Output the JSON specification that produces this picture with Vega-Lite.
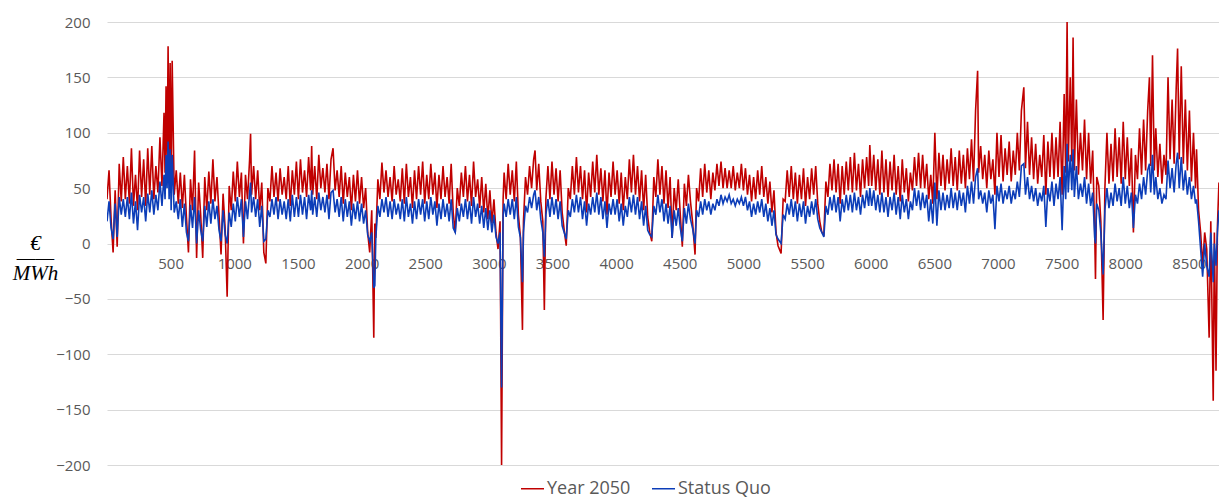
{
"$schema": "https://vega.github.io/schema/vega-lite/v6.json",
"width": 1115,
"height": 443,
"autosize": "none",
"padding": {"left": 107, "top": 22, "right": 0, "bottom": 34},
"background": "white",
"config": {"view": {"stroke": null}, "font": "Open Sans"},
"data": {"values": [
{"h":0,"r":40,"b":20},{"h":16,"r":66,"b":38},{"h":32,"r":22,"b":14},{"h":48,"r":-8,"b":4},{"h":64,"r":48,"b":36},{"h":80,"r":-3,"b":6},{"h":96,"r":72,"b":42},{"h":112,"r":38,"b":26},{"h":128,"r":78,"b":40},{"h":144,"r":40,"b":24},{"h":160,"r":70,"b":42},{"h":176,"r":36,"b":22},{"h":192,"r":86,"b":46},{"h":208,"r":34,"b":18},{"h":224,"r":62,"b":38},{"h":240,"r":30,"b":12},{"h":256,"r":84,"b":44},{"h":272,"r":42,"b":28},{"h":288,"r":76,"b":42},{"h":304,"r":34,"b":20},{"h":320,"r":86,"b":45},{"h":336,"r":44,"b":28},{"h":352,"r":88,"b":48},{"h":368,"r":40,"b":26},{"h":384,"r":70,"b":44},{"h":400,"r":46,"b":30},{"h":416,"r":96,"b":56},{"h":432,"r":52,"b":34},{"h":448,"r":118,"b":62},{"h":456,"r":64,"b":40},{"h":464,"r":142,"b":80},{"h":472,"r":72,"b":50},{"h":480,"r":178,"b":92},{"h":488,"r":66,"b":40},{"h":496,"r":163,"b":85},{"h":504,"r":50,"b":30},{"h":512,"r":165,"b":80},
{"h":528,"r":44,"b":28},{"h":544,"r":66,"b":38},{"h":560,"r":36,"b":22},{"h":576,"r":64,"b":40},{"h":592,"r":32,"b":15},{"h":608,"r":62,"b":36},{"h":624,"r":24,"b":10},{"h":640,"r":-8,"b":2},{"h":656,"r":58,"b":35},{"h":672,"r":30,"b":14},{"h":688,"r":84,"b":42},{"h":704,"r":-13,"b":0},{"h":720,"r":55,"b":30},{"h":736,"r":26,"b":12},{"h":752,"r":-13,"b":2},{"h":768,"r":60,"b":34},{"h":784,"r":30,"b":15},{"h":800,"r":65,"b":38},{"h":816,"r":36,"b":18},{"h":832,"r":76,"b":40},{"h":848,"r":38,"b":22},{"h":864,"r":60,"b":34},{"h":880,"r":26,"b":12},{"h":896,"r":-10,"b":2},{"h":912,"r":45,"b":30},{"h":928,"r":14,"b":8},{"h":944,"r":-48,"b":0},{"h":960,"r":52,"b":28},{"h":976,"r":30,"b":15},{"h":992,"r":65,"b":36},
{"h":1008,"r":38,"b":20},{"h":1024,"r":74,"b":42},{"h":1040,"r":42,"b":24},{"h":1056,"r":64,"b":40},{"h":1072,"r":0,"b":6},{"h":1088,"r":62,"b":38},{"h":1104,"r":40,"b":22},{"h":1120,"r":75,"b":45},{"h":1128,"r":99,"b":55},{"h":1136,"r":44,"b":28},{"h":1152,"r":70,"b":42},{"h":1168,"r":40,"b":24},{"h":1184,"r":66,"b":40},{"h":1200,"r":30,"b":15},{"h":1216,"r":55,"b":34},{"h":1232,"r":-8,"b":2},{"h":1248,"r":-18,"b":4},{"h":1264,"r":50,"b":30},{"h":1280,"r":38,"b":24},{"h":1296,"r":70,"b":40},{"h":1312,"r":42,"b":26},{"h":1328,"r":64,"b":42},{"h":1344,"r":38,"b":22},{"h":1360,"r":68,"b":40},{"h":1376,"r":44,"b":26},{"h":1392,"r":60,"b":38},{"h":1408,"r":40,"b":22},{"h":1424,"r":70,"b":40},{"h":1440,"r":34,"b":20},{"h":1456,"r":66,"b":44},{"h":1472,"r":44,"b":24},{"h":1488,"r":74,"b":42},
{"h":1504,"r":40,"b":24},{"h":1520,"r":76,"b":44},{"h":1536,"r":46,"b":26},{"h":1552,"r":66,"b":42},{"h":1568,"r":42,"b":22},{"h":1584,"r":78,"b":44},{"h":1600,"r":48,"b":30},{"h":1608,"r":88,"b":48},{"h":1616,"r":44,"b":26},{"h":1632,"r":70,"b":42},{"h":1648,"r":40,"b":24},{"h":1664,"r":80,"b":46},{"h":1680,"r":50,"b":30},{"h":1696,"r":68,"b":42},{"h":1712,"r":46,"b":28},{"h":1728,"r":72,"b":44},{"h":1744,"r":40,"b":22},{"h":1760,"r":76,"b":46},{"h":1776,"r":86,"b":48},{"h":1792,"r":48,"b":28},{"h":1808,"r":66,"b":40},{"h":1824,"r":42,"b":24},{"h":1840,"r":70,"b":42},{"h":1856,"r":36,"b":20},{"h":1872,"r":64,"b":40},{"h":1888,"r":42,"b":24},{"h":1904,"r":60,"b":38},{"h":1920,"r":30,"b":16},{"h":1936,"r":62,"b":36},{"h":1952,"r":38,"b":22},{"h":1968,"r":66,"b":38},{"h":1984,"r":36,"b":20},
{"h":2000,"r":60,"b":36},{"h":2016,"r":32,"b":18},{"h":2032,"r":50,"b":30},{"h":2048,"r":10,"b":8},{"h":2064,"r":-8,"b":2},{"h":2080,"r":30,"b":10},{"h":2096,"r":-85,"b":-40},{"h":2104,"r":18,"b":-38},{"h":2112,"r":5,"b":5},{"h":2128,"r":58,"b":34},{"h":2144,"r":40,"b":24},{"h":2160,"r":73,"b":40},{"h":2176,"r":46,"b":28},{"h":2192,"r":66,"b":42},{"h":2208,"r":42,"b":24},{"h":2224,"r":60,"b":38},{"h":2240,"r":38,"b":22},{"h":2256,"r":70,"b":40},{"h":2272,"r":44,"b":26},{"h":2288,"r":58,"b":36},{"h":2304,"r":38,"b":22},{"h":2320,"r":68,"b":40},{"h":2336,"r":36,"b":20},{"h":2352,"r":72,"b":42},{"h":2368,"r":42,"b":24},{"h":2384,"r":60,"b":36},{"h":2400,"r":32,"b":18},{"h":2416,"r":66,"b":38},{"h":2432,"r":40,"b":22},{"h":2448,"r":70,"b":40},{"h":2464,"r":44,"b":26},{"h":2480,"r":74,"b":40},{"h":2496,"r":36,"b":20},
{"h":2512,"r":62,"b":38},{"h":2528,"r":40,"b":22},{"h":2544,"r":72,"b":42},{"h":2560,"r":44,"b":26},{"h":2576,"r":64,"b":38},{"h":2592,"r":32,"b":16},{"h":2608,"r":62,"b":36},{"h":2624,"r":40,"b":22},{"h":2640,"r":70,"b":40},{"h":2656,"r":42,"b":24},{"h":2672,"r":60,"b":36},{"h":2688,"r":36,"b":20},{"h":2704,"r":72,"b":40},{"h":2720,"r":28,"b":14},{"h":2736,"r":10,"b":10},{"h":2752,"r":50,"b":32},{"h":2768,"r":34,"b":20},{"h":2784,"r":64,"b":36},{"h":2800,"r":42,"b":24},{"h":2816,"r":70,"b":40},{"h":2832,"r":38,"b":22},{"h":2848,"r":62,"b":38},{"h":2864,"r":34,"b":18},{"h":2880,"r":74,"b":42},{"h":2896,"r":42,"b":24},{"h":2912,"r":58,"b":36},{"h":2928,"r":32,"b":18},{"h":2944,"r":60,"b":34},{"h":2960,"r":28,"b":14},{"h":2976,"r":54,"b":32},{"h":2992,"r":22,"b":12},
{"h":3008,"r":48,"b":30},{"h":3024,"r":18,"b":10},{"h":3040,"r":40,"b":26},{"h":3056,"r":10,"b":6},{"h":3072,"r":-5,"b":0},{"h":3088,"r":20,"b":10},{"h":3100,"r":-200,"b":-130},{"h":3112,"r":40,"b":25},{"h":3120,"r":64,"b":36},{"h":3136,"r":40,"b":24},{"h":3152,"r":72,"b":40},{"h":3168,"r":44,"b":26},{"h":3184,"r":66,"b":40},{"h":3200,"r":38,"b":22},{"h":3216,"r":74,"b":42},{"h":3232,"r":26,"b":15},{"h":3248,"r":6,"b":5},{"h":3264,"r":-78,"b":-35},{"h":3272,"r":20,"b":10},{"h":3288,"r":60,"b":34},{"h":3304,"r":44,"b":28},{"h":3320,"r":70,"b":42},{"h":3336,"r":50,"b":32},{"h":3352,"r":76,"b":44},{"h":3363,"r":84,"b":48},{"h":3376,"r":48,"b":30},{"h":3392,"r":72,"b":42},{"h":3408,"r":38,"b":22},{"h":3424,"r":20,"b":10},{"h":3436,"r":-60,"b":-12},{"h":3448,"r":40,"b":26},{"h":3464,"r":70,"b":40},{"h":3480,"r":40,"b":24},{"h":3496,"r":74,"b":42},
{"h":3512,"r":44,"b":26},{"h":3528,"r":68,"b":40},{"h":3544,"r":38,"b":22},{"h":3560,"r":66,"b":38},{"h":3576,"r":28,"b":16},{"h":3592,"r":12,"b":10},{"h":3608,"r":-2,"b":4},{"h":3624,"r":50,"b":30},{"h":3640,"r":40,"b":24},{"h":3656,"r":70,"b":40},{"h":3672,"r":44,"b":28},{"h":3688,"r":78,"b":44},{"h":3704,"r":46,"b":28},{"h":3720,"r":70,"b":42},{"h":3736,"r":40,"b":22},{"h":3752,"r":66,"b":38},{"h":3768,"r":28,"b":16},{"h":3784,"r":64,"b":36},{"h":3800,"r":42,"b":26},{"h":3816,"r":74,"b":42},{"h":3832,"r":46,"b":28},{"h":3848,"r":80,"b":46},{"h":3864,"r":44,"b":26},{"h":3880,"r":68,"b":42},{"h":3896,"r":38,"b":22},{"h":3912,"r":66,"b":38},{"h":3928,"r":26,"b":14},{"h":3944,"r":64,"b":36},{"h":3960,"r":42,"b":26},{"h":3976,"r":74,"b":40},{"h":3992,"r":44,"b":26},
{"h":4008,"r":66,"b":40},{"h":4024,"r":36,"b":20},{"h":4040,"r":64,"b":36},{"h":4056,"r":30,"b":16},{"h":4072,"r":60,"b":34},{"h":4088,"r":40,"b":24},{"h":4104,"r":76,"b":42},{"h":4120,"r":46,"b":28},{"h":4136,"r":80,"b":44},{"h":4152,"r":44,"b":26},{"h":4168,"r":70,"b":42},{"h":4184,"r":38,"b":22},{"h":4200,"r":66,"b":38},{"h":4216,"r":30,"b":16},{"h":4232,"r":62,"b":34},{"h":4248,"r":24,"b":12},{"h":4264,"r":10,"b":8},{"h":4280,"r":2,"b":6},{"h":4296,"r":60,"b":34},{"h":4312,"r":42,"b":26},{"h":4328,"r":76,"b":44},{"h":4344,"r":44,"b":28},{"h":4360,"r":70,"b":40},{"h":4376,"r":36,"b":20},{"h":4392,"r":66,"b":36},{"h":4408,"r":32,"b":18},{"h":4424,"r":60,"b":34},{"h":4440,"r":5,"b":5},{"h":4456,"r":50,"b":30},{"h":4472,"r":30,"b":16},{"h":4488,"r":58,"b":32},
{"h":4504,"r":26,"b":14},{"h":4520,"r":-3,"b":2},{"h":4536,"r":54,"b":32},{"h":4552,"r":34,"b":18},{"h":4568,"r":62,"b":36},{"h":4584,"r":38,"b":22},{"h":4600,"r":20,"b":14},{"h":4620,"r":-10,"b":0},{"h":4632,"r":50,"b":30},{"h":4648,"r":38,"b":24},{"h":4664,"r":68,"b":38},{"h":4680,"r":42,"b":26},{"h":4696,"r":72,"b":40},{"h":4712,"r":46,"b":30},{"h":4728,"r":66,"b":38},{"h":4744,"r":40,"b":26},{"h":4760,"r":64,"b":36},{"h":4776,"r":48,"b":30},{"h":4792,"r":72,"b":40},{"h":4808,"r":52,"b":34},{"h":4824,"r":74,"b":44},{"h":4840,"r":50,"b":36},{"h":4856,"r":68,"b":42},{"h":4872,"r":50,"b":38},{"h":4888,"r":66,"b":44},{"h":4904,"r":50,"b":36},{"h":4920,"r":70,"b":40},{"h":4936,"r":48,"b":34},{"h":4952,"r":64,"b":40},{"h":4968,"r":50,"b":36},{"h":4984,"r":72,"b":42},
{"h":5000,"r":48,"b":34},{"h":5016,"r":68,"b":42},{"h":5032,"r":44,"b":30},{"h":5048,"r":62,"b":38},{"h":5064,"r":38,"b":24},{"h":5080,"r":60,"b":36},{"h":5096,"r":40,"b":26},{"h":5112,"r":66,"b":38},{"h":5128,"r":44,"b":28},{"h":5144,"r":70,"b":40},{"h":5160,"r":42,"b":24},{"h":5176,"r":60,"b":36},{"h":5192,"r":36,"b":20},{"h":5208,"r":56,"b":32},{"h":5224,"r":28,"b":16},{"h":5240,"r":48,"b":30},{"h":5256,"r":10,"b":8},{"h":5272,"r":-2,"b":4},{"h":5296,"r":-9,"b":0},{"h":5312,"r":40,"b":26},{"h":5328,"r":38,"b":22},{"h":5344,"r":66,"b":36},{"h":5360,"r":42,"b":26},{"h":5376,"r":70,"b":40},{"h":5392,"r":40,"b":24},{"h":5408,"r":64,"b":38},{"h":5424,"r":36,"b":20},{"h":5440,"r":62,"b":36},{"h":5456,"r":40,"b":24},{"h":5472,"r":68,"b":38},{"h":5488,"r":34,"b":18},
{"h":5504,"r":60,"b":34},{"h":5520,"r":40,"b":24},{"h":5536,"r":68,"b":38},{"h":5552,"r":44,"b":26},{"h":5568,"r":70,"b":40},{"h":5584,"r":36,"b":22},{"h":5600,"r":20,"b":14},{"h":5616,"r":10,"b":10},{"h":5632,"r":8,"b":6},{"h":5648,"r":56,"b":34},{"h":5664,"r":42,"b":26},{"h":5680,"r":72,"b":42},{"h":5696,"r":48,"b":30},{"h":5712,"r":76,"b":44},{"h":5728,"r":46,"b":28},{"h":5744,"r":72,"b":42},{"h":5760,"r":36,"b":20},{"h":5776,"r":70,"b":40},{"h":5792,"r":44,"b":28},{"h":5808,"r":74,"b":44},{"h":5824,"r":48,"b":30},{"h":5840,"r":78,"b":44},{"h":5856,"r":46,"b":28},{"h":5872,"r":82,"b":46},{"h":5888,"r":48,"b":30},{"h":5904,"r":72,"b":42},{"h":5920,"r":42,"b":26},{"h":5936,"r":76,"b":44},{"h":5952,"r":50,"b":32},{"h":5968,"r":78,"b":48},{"h":5984,"r":52,"b":34},{"h":5993,"r":89,"b":50},
{"h":6008,"r":52,"b":34},{"h":6024,"r":80,"b":48},{"h":6040,"r":48,"b":30},{"h":6056,"r":76,"b":44},{"h":6072,"r":44,"b":28},{"h":6088,"r":84,"b":46},{"h":6104,"r":46,"b":28},{"h":6120,"r":76,"b":42},{"h":6136,"r":42,"b":24},{"h":6152,"r":74,"b":42},{"h":6168,"r":48,"b":30},{"h":6184,"r":80,"b":46},{"h":6200,"r":44,"b":26},{"h":6216,"r":70,"b":42},{"h":6232,"r":38,"b":22},{"h":6248,"r":76,"b":44},{"h":6264,"r":46,"b":28},{"h":6280,"r":68,"b":40},{"h":6296,"r":38,"b":22},{"h":6312,"r":64,"b":38},{"h":6328,"r":48,"b":30},{"h":6344,"r":78,"b":50},{"h":6360,"r":52,"b":34},{"h":6376,"r":82,"b":48},{"h":6392,"r":50,"b":30},{"h":6408,"r":80,"b":46},{"h":6424,"r":50,"b":32},{"h":6440,"r":72,"b":44},{"h":6456,"r":40,"b":20},{"h":6472,"r":62,"b":40},{"h":6488,"r":36,"b":18},
{"h":6504,"r":100,"b":55},{"h":6520,"r":40,"b":16},{"h":6536,"r":82,"b":48},{"h":6552,"r":52,"b":30},{"h":6568,"r":80,"b":46},{"h":6584,"r":48,"b":30},{"h":6600,"r":76,"b":44},{"h":6616,"r":54,"b":32},{"h":6632,"r":86,"b":50},{"h":6648,"r":52,"b":32},{"h":6664,"r":78,"b":46},{"h":6680,"r":48,"b":30},{"h":6696,"r":84,"b":48},{"h":6712,"r":54,"b":34},{"h":6728,"r":80,"b":46},{"h":6744,"r":50,"b":28},{"h":6760,"r":86,"b":52},{"h":6776,"r":58,"b":36},{"h":6792,"r":94,"b":56},{"h":6808,"r":56,"b":36},{"h":6824,"r":120,"b":60},{"h":6840,"r":156,"b":68},{"h":6848,"r":64,"b":40},{"h":6864,"r":88,"b":48},{"h":6880,"r":58,"b":36},{"h":6896,"r":80,"b":46},{"h":6912,"r":50,"b":28},{"h":6928,"r":84,"b":48},{"h":6944,"r":58,"b":36},{"h":6960,"r":76,"b":44},{"h":6976,"r":44,"b":13},{"h":6992,"r":100,"b":52},
{"h":7008,"r":60,"b":38},{"h":7024,"r":98,"b":54},{"h":7040,"r":56,"b":36},{"h":7056,"r":86,"b":48},{"h":7072,"r":62,"b":40},{"h":7088,"r":92,"b":52},{"h":7104,"r":56,"b":36},{"h":7120,"r":84,"b":48},{"h":7136,"r":62,"b":40},{"h":7152,"r":100,"b":56},{"h":7168,"r":66,"b":42},{"h":7184,"r":120,"b":70},{"h":7203,"r":141,"b":72},{"h":7216,"r":68,"b":44},{"h":7232,"r":110,"b":60},{"h":7248,"r":62,"b":40},{"h":7264,"r":96,"b":52},{"h":7280,"r":58,"b":38},{"h":7296,"r":90,"b":50},{"h":7312,"r":54,"b":34},{"h":7328,"r":80,"b":46},{"h":7344,"r":60,"b":38},{"h":7360,"r":98,"b":52},{"h":7376,"r":44,"b":15},{"h":7392,"r":92,"b":50},{"h":7408,"r":60,"b":38},{"h":7424,"r":100,"b":56},{"h":7440,"r":58,"b":34},{"h":7456,"r":96,"b":54},{"h":7472,"r":60,"b":40},{"h":7488,"r":110,"b":60},
{"h":7504,"r":44,"b":12},{"h":7520,"r":135,"b":70},{"h":7532,"r":64,"b":40},{"h":7543,"r":200,"b":90},{"h":7552,"r":74,"b":46},{"h":7568,"r":150,"b":80},{"h":7580,"r":74,"b":48},{"h":7590,"r":186,"b":85},{"h":7600,"r":66,"b":42},{"h":7616,"r":130,"b":70},{"h":7632,"r":62,"b":40},{"h":7648,"r":100,"b":54},{"h":7664,"r":66,"b":42},{"h":7680,"r":112,"b":60},{"h":7696,"r":58,"b":36},{"h":7712,"r":100,"b":54},{"h":7728,"r":54,"b":34},{"h":7744,"r":84,"b":46},{"h":7760,"r":10,"b":5},{"h":7766,"r":-32,"b":0},{"h":7776,"r":60,"b":36},{"h":7792,"r":52,"b":30},{"h":7808,"r":20,"b":10},{"h":7826,"r":-69,"b":-28},{"h":7840,"r":50,"b":30},{"h":7856,"r":100,"b":50},{"h":7872,"r":54,"b":32},{"h":7888,"r":90,"b":46},{"h":7904,"r":56,"b":34},{"h":7920,"r":104,"b":54},{"h":7936,"r":60,"b":38},{"h":7952,"r":96,"b":50},{"h":7968,"r":54,"b":34},{"h":7984,"r":110,"b":60},
{"h":8000,"r":58,"b":36},{"h":8016,"r":96,"b":52},{"h":8032,"r":52,"b":32},{"h":8048,"r":86,"b":46},{"h":8064,"r":10,"b":14},{"h":8080,"r":80,"b":44},{"h":8096,"r":58,"b":36},{"h":8112,"r":104,"b":54},{"h":8128,"r":62,"b":40},{"h":8144,"r":112,"b":60},{"h":8160,"r":66,"b":44},{"h":8176,"r":120,"b":66},{"h":8190,"r":150,"b":72},{"h":8200,"r":70,"b":46},{"h":8214,"r":170,"b":80},{"h":8228,"r":66,"b":44},{"h":8240,"r":104,"b":60},{"h":8256,"r":60,"b":40},{"h":8272,"r":90,"b":50},{"h":8288,"r":54,"b":36},{"h":8304,"r":80,"b":44},{"h":8320,"r":62,"b":40},{"h":8336,"r":150,"b":75},{"h":8352,"r":76,"b":50},{"h":8368,"r":130,"b":68},{"h":8384,"r":72,"b":46},{"h":8400,"r":140,"b":72},{"h":8411,"r":176,"b":82},{"h":8424,"r":76,"b":50},{"h":8440,"r":160,"b":78},{"h":8456,"r":72,"b":48},{"h":8472,"r":130,"b":66},{"h":8488,"r":66,"b":44},
{"h":8504,"r":120,"b":60},{"h":8520,"r":56,"b":40},{"h":8536,"r":100,"b":52},{"h":8552,"r":50,"b":36},{"h":8560,"r":85,"b":40},{"h":8576,"r":30,"b":20},{"h":8592,"r":10,"b":-5},{"h":8608,"r":-20,"b":-30},{"h":8624,"r":10,"b":0},{"h":8640,"r":-5,"b":-20},{"h":8659,"r":-85,"b":-30},{"h":8672,"r":20,"b":10},{"h":8691,"r":-142,"b":-35},{"h":8700,"r":10,"b":0},{"h":8713,"r":-115,"b":-20},{"h":8724,"r":15,"b":10},{"h":8736,"r":55,"b":30}
]},
"encoding": {
  "x": {"field": "h", "type": "quantitative",
    "scale": {"domain": [0, 8760], "nice": false, "zero": false},
    "axis": {"values": [500,1000,1500,2000,2500,3000,3500,4000,4500,5000,5500,6000,6500,7000,7500,8000,8500],
      "format": "d", "offset": -222, "domain": false, "ticks": false, "grid": false,
      "labelFontSize": 15, "labelColor": "#595959", "labelPadding": 13, "labelFlush": false, "title": null}}
},
"layer": [
  {"mark": {"type": "line", "strokeWidth": 1.6, "clip": true},
   "encoding": {
     "y": {"field": "r", "type": "quantitative",
       "scale": {"domain": [-200, 200], "nice": false},
       "axis": {"values": [-200,-150,-100,-50,0,50,100,150,200], "grid": true, "gridColor": "#d9d9d9", "gridWidth": 1.2,
         "domain": false, "ticks": false, "labelFontSize": 15, "labelColor": "#595959", "labelPadding": 17,
         "title": ["€", "——", "MWh"], "titleAngle": 0, "titleX": -72, "titleY": 221, "titleAlign": "center", "titleBaseline": "middle",
         "titleFont": "Liberation Serif", "titleFontStyle": "italic", "titleFontWeight": "normal", "titleFontSize": 21, "titleColor": "#000000", "titleLineHeight": 15}},
     "color": {"datum": "Year 2050", "type": "nominal",
       "scale": {"domain": ["Year 2050", "Status Quo"], "range": ["#C00000", "#0C3DB8"]},
       "legend": {"orient": "none", "legendX": 413, "legendY": 454, "direction": "horizontal", "symbolType": "stroke",
         "symbolSize": 529, "symbolStrokeWidth": 1.5, "labelFontSize": 18, "labelColor": "#595959", "labelOffset": 2,
         "columnPadding": 18, "title": null, "padding": 0}}
   }},
  {"mark": {"type": "line", "strokeWidth": 1.6, "clip": true},
   "encoding": {
     "y": {"field": "b", "type": "quantitative",
       "scale": {"domain": [-200, 200], "nice": false},
       "axis": {"values": [-200,-150,-100,-50,0,50,100,150,200], "grid": true, "gridColor": "#d9d9d9", "gridWidth": 1.2,
         "domain": false, "ticks": false, "labelFontSize": 15, "labelColor": "#595959", "labelPadding": 17,
         "title": ["€", "——", "MWh"], "titleAngle": 0, "titleX": -72, "titleY": 221, "titleAlign": "center", "titleBaseline": "middle",
         "titleFont": "Liberation Serif", "titleFontStyle": "italic", "titleFontWeight": "normal", "titleFontSize": 21, "titleColor": "#000000", "titleLineHeight": 15}},
     "color": {"datum": "Status Quo", "type": "nominal"}
   }}
]
}
